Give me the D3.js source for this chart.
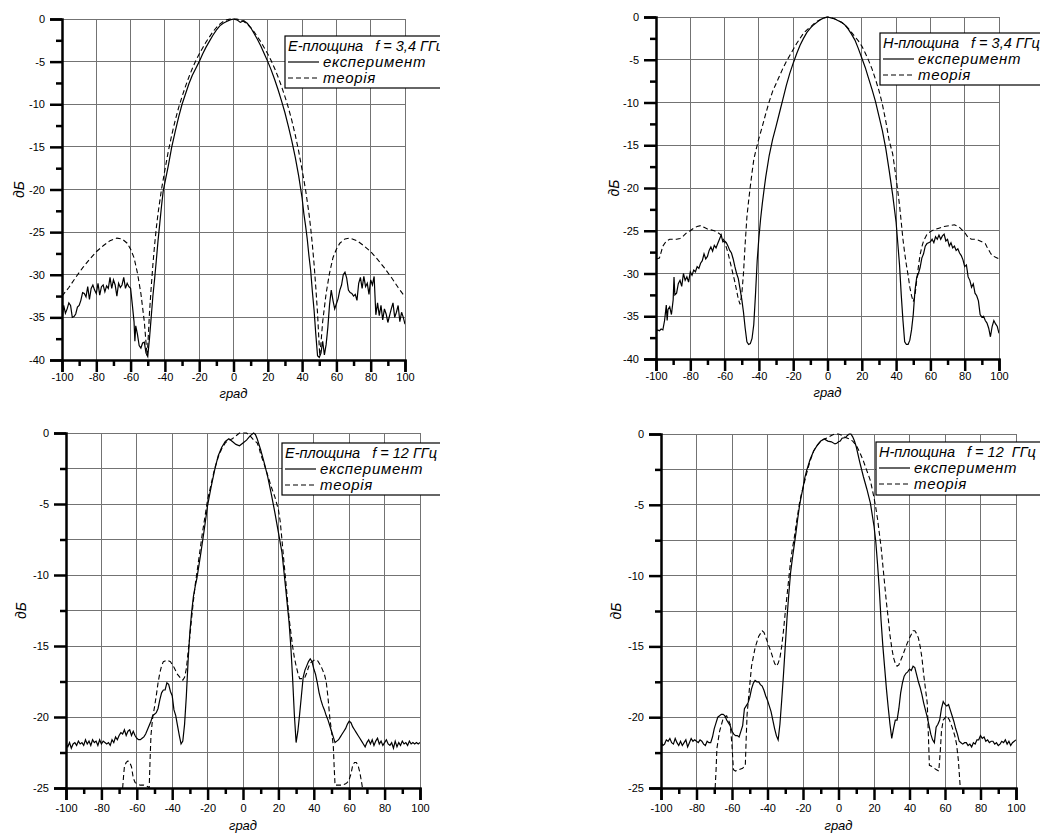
<!DOCTYPE html>
<html>
<head>
<meta charset="UTF-8">
<title>Діаграми спрямованості</title>
<script src="https://d3js.org/d3.v7.min.js"></script>
<style>
  body { margin: 0; background: #ffffff; }
  svg { display: block; font-family: "Liberation Sans", Arial, sans-serif; }
</style>
</head>
<body>
<div id="chart"></div>
<script>
// ---------- data (angle in degrees, level in dB) ----------

// E-plane, 3.4 GHz
var e34ExpX = [-100,-99,-98,-97,-96,-95,-94,-93,-92,-91,-90,-89,-88,-87,-86,-85,-84,-83,-82,-81,-80,-79,-78,-77,-76,-75,-74,-73,-72,-71,-70,-69,-68,-67,-66,-65,-64,-63,-62,-61,-60,-59,-58,-57.5,-57,-56,-55,-54,-53,-52,-51,-50,-49,-48,-47,-46,-45,-44,-43,-42,-41,-40,-38,-36,-34,-32,-30,-28,-26,-24,-22,-20,-18,-16,-14,-12,-10,-8,-6,-4,-2,0,2,4,5,6,8,10,12,14,16,18,20,22,24,26,28,30,32,34,36,38,40,41,42,43,44,45,46,47,48,49,50,51,52,53,54,55,56,57,58,59,60,61,62,63,64,65,66,67,68,69,70,71,72,73,74,75,76,77,78,79,80,81,82,83,84,85,86,87,88,89,90,91,92,93,94,95,96,97,98,99,100];
var e34ExpY = [-35.3,-33.6,-34.5,-34.0,-33.3,-33.6,-35.0,-34.9,-34.6,-33.8,-33.6,-33.0,-32.1,-32.2,-32.6,-31.4,-32.9,-31.6,-31.2,-31.8,-32.2,-31.0,-32.4,-31.4,-31.2,-32.0,-31.3,-31.6,-30.3,-31.6,-30.6,-31.2,-32.5,-31.0,-31.5,-31.2,-30.3,-31.6,-31.0,-31.4,-31.6,-33.5,-35.5,-37.8,-36.0,-37.0,-38.3,-38.6,-38.0,-37.9,-39.2,-39.6,-37.5,-35.0,-32.5,-30.5,-28.3,-26.0,-24.0,-22.0,-20.2,-19.2,-17.2,-15.0,-13.2,-11.5,-10.0,-8.8,-7.6,-6.6,-5.8,-5.0,-4.1,-3.3,-2.6,-1.9,-1.3,-0.8,-0.5,-0.3,-0.1,0,-0.1,-0.4,-0.3,-0.2,-0.5,-1.0,-1.7,-2.4,-3.2,-4.1,-5.0,-6.0,-7.1,-8.3,-9.6,-11.0,-12.6,-14.3,-16.2,-18.4,-21.0,-22.8,-24.2,-25.8,-27.8,-29.5,-32.0,-34.2,-37.0,-39.5,-39.7,-39.2,-37.8,-39.4,-38.2,-36.2,-33.5,-31.8,-33.0,-34.0,-33.4,-32.8,-31.8,-31.2,-30.0,-29.7,-30.4,-31.8,-32.1,-32.2,-32.5,-32.3,-33.0,-31.0,-30.3,-31.6,-30.2,-31.4,-31.0,-32.3,-30.6,-31.2,-30.2,-34.7,-33.3,-34.8,-33.6,-35.3,-34.0,-34.6,-35.6,-34.8,-34.0,-33.3,-35.0,-34.4,-33.6,-35.5,-34.4,-35.0,-35.8];
var e34ThX = [-100,-96,-92,-88,-84,-80,-76,-72,-68,-65,-62,-60,-58,-56,-54,-52,-51,-50.3,-49.5,-49,-48,-47,-46,-45,-44,-42,-40,-38,-36,-34,-32,-30,-28,-26,-24,-22,-20,-18,-16,-14,-12,-10,-8,-6,-4,-2,0,2,4,6,8,10,12,14,16,18,20,22,24,26,28,30,32,34,36,38,40,42,44,45,46,47,48,49,49.5,50.3,51,52,54,56,58,60,62,65,68,72,76,80,84,88,92,96,100];
var e34ThY = [-32.5,-31.5,-30.3,-29.2,-28.2,-27.3,-26.6,-26.0,-25.7,-25.8,-26.3,-27.0,-28.0,-29.8,-32.2,-35.5,-38.0,-39.5,-36.5,-34.5,-31.5,-28.8,-26.5,-24.5,-22.8,-20.0,-17.7,-15.5,-13.6,-11.9,-10.4,-9.1,-7.9,-6.8,-5.8,-4.9,-4.1,-3.4,-2.7,-2.1,-1.5,-1.0,-0.6,-0.3,-0.1,0,0,0,-0.1,-0.3,-0.6,-1.0,-1.5,-2.1,-2.7,-3.4,-4.1,-4.9,-5.8,-6.8,-7.9,-9.1,-10.4,-11.9,-13.6,-15.5,-17.7,-20.0,-22.8,-24.5,-26.5,-28.8,-31.5,-34.5,-36.5,-39.5,-38.0,-35.5,-32.2,-29.8,-28.0,-27.0,-26.3,-25.8,-25.7,-26.0,-26.6,-27.3,-28.2,-29.2,-30.3,-31.5,-32.6];

// H-plane, 3.4 GHz
var h34ExpX = [-100,-99,-98,-97,-96,-95,-94,-93.5,-93,-92,-91,-90,-89.5,-89,-88,-87,-86,-85,-84,-83,-82,-81,-80,-79,-78,-77,-76,-75,-74,-73,-72,-71,-70,-69,-68,-67,-66,-65,-64,-63,-62,-61,-60,-59,-58,-57,-56,-55,-54,-53,-52,-51,-50,-49,-48,-47,-46,-45,-44,-43,-42,-41,-40,-39,-38,-37,-36,-34,-32,-30,-28,-26,-24,-22,-20,-18,-16,-14,-12,-10,-8,-6,-4,-2,0,2,4,6,8,10,12,14,16,18,20,22,24,26,28,30,32,34,36,38,40,41,42,43,44,45,46,47,48,49,50,51,52,53,54,55,56,57,58,59,60,61,62,63,64,65,66,67,68,69,70,71,72,73,74,75,76,77,78,79,80,81,82,83,84,85,86,87,88,89,90,91,92,93,94,95,96,97,98,99,100];
var h34ExpY = [-36.8,-36.6,-36.7,-36.5,-36.6,-35.5,-33.7,-35.5,-34.2,-33.9,-34.8,-33.1,-30.4,-32.5,-32.3,-31.2,-30.8,-31.5,-30.0,-30.8,-30.4,-31.0,-29.8,-30.2,-29.6,-29.8,-29.2,-29.4,-28.8,-28.5,-27.7,-28.3,-28.0,-27.3,-26.9,-27.4,-26.7,-27.0,-26.5,-26.0,-25.5,-26.3,-26.2,-26.4,-26.8,-27.3,-27.6,-28.3,-29.2,-30.0,-30.6,-31.8,-33.0,-34.5,-36.4,-38.0,-38.3,-38.2,-37.6,-36.0,-32.5,-28.5,-25.8,-23.6,-21.8,-20.2,-18.7,-16.2,-14.3,-12.8,-11.2,-9.6,-8.0,-6.6,-5.4,-4.3,-3.3,-2.5,-1.8,-1.3,-0.9,-0.6,-0.3,-0.1,0,-0.1,-0.2,-0.4,-0.6,-0.9,-1.4,-2.0,-2.7,-3.7,-4.8,-5.9,-7.2,-8.5,-9.9,-11.6,-13.3,-15.4,-18.0,-20.8,-24.0,-26.5,-29.0,-32.5,-35.5,-38.0,-38.3,-38.3,-37.8,-36.6,-34.8,-32.0,-30.5,-30.0,-29.3,-28.2,-27.7,-26.8,-26.5,-26.4,-26.3,-26.0,-26.4,-25.7,-26.0,-25.5,-26.0,-25.6,-25.4,-26.2,-26.0,-26.8,-26.4,-27.0,-26.8,-27.3,-27.1,-27.6,-27.9,-28.4,-29.2,-29.0,-30.4,-30.8,-31.6,-31.2,-32.3,-32.6,-33.2,-34.8,-35.1,-35.0,-35.5,-35.8,-36.4,-37.4,-36.2,-35.5,-35.9,-36.2,-37.0];
var h34ThX = [-100,-98,-97,-96,-94,-92,-90,-88,-86,-84,-82,-80,-78,-76,-74,-72,-70,-68,-66,-64,-62,-60,-58,-56,-54,-52,-51,-50,-49,-48,-47,-46,-45,-44,-43,-42,-40,-38,-36,-34,-32,-30,-28,-26,-24,-22,-20,-18,-16,-14,-12,-10,-8,-6,-4,-2,0,2,4,6,8,10,12,14,16,18,20,22,24,26,28,30,32,34,36,38,40,42,43,44,45,46,47,48,49,50,51,52,53,54,55,56,58,60,62,65,68,71,74,77,80,82,84,86,88,90,92,93,95,96,98,100];
var h34ThY = [-28.3,-28.2,-27.5,-26.8,-26.2,-26.0,-26.0,-26.0,-25.9,-25.6,-25.2,-25.0,-24.7,-24.5,-24.4,-24.6,-24.8,-24.9,-25.0,-25.2,-25.5,-26.3,-27.6,-29.3,-31.0,-33.0,-33.6,-32.5,-30.0,-26.5,-23.4,-21.5,-19.8,-18.2,-16.7,-15.8,-14.2,-12.8,-11.3,-9.9,-8.7,-7.8,-6.9,-6.0,-5.2,-4.5,-3.8,-3.1,-2.5,-1.9,-1.5,-1.2,-0.8,-0.5,-0.3,-0.1,0,-0.1,-0.2,-0.4,-0.6,-0.9,-1.3,-1.8,-2.3,-2.8,-3.4,-4.2,-5.1,-6.1,-7.3,-8.6,-10.2,-12.2,-14.5,-16.0,-18.8,-22.0,-24.0,-26.0,-27.6,-29.0,-30.2,-31.6,-32.6,-33.3,-32.6,-30.8,-29.2,-27.8,-26.9,-26.2,-25.4,-25.1,-24.9,-24.7,-24.5,-24.4,-24.3,-24.6,-25.2,-25.8,-26.0,-26.0,-26.1,-26.3,-26.5,-26.9,-27.6,-27.9,-28.1,-28.3];

// E-plane, 12 GHz
var e12ExpX = [-100,-99,-98,-97,-96,-95,-94,-93,-92,-91,-90,-89,-88,-87,-86,-85,-84,-83,-82,-81,-80,-79,-78,-77,-76,-75,-74,-73,-72,-71,-70,-69,-68,-67,-66,-65,-64,-63,-62,-61,-60,-59,-58,-57,-56,-55,-54,-53,-52,-51,-50,-49,-48,-47,-46,-45,-44,-43,-42,-41,-40,-39,-38,-37,-36,-35,-34,-33,-32,-31,-30,-29,-28,-27,-26,-24,-22,-20,-18,-16,-14,-12,-10,-8,-6,-4,-2,0,2,4,6,7,8,10,12,14,16,18,20,22,24,26,27,28,29,30,31,32,33,34,35,36,37,38,39,40,41,42,43,44,45,46,47,48,49,50,51,52,53,54,55,56,57,58,59,60,61,62,63,64,65,66,67,68,69,70,71,72,73,74,75,76,77,78,79,80,81,82,83,84,85,86,87,88,89,90,91,92,93,94,95,96,97,98,99,100];
var e12ExpY = [-21.9,-22.1,-21.8,-22.2,-21.9,-21.8,-22.0,-21.7,-21.9,-21.8,-22.0,-21.6,-21.9,-21.7,-22.0,-21.6,-21.8,-21.7,-22.0,-21.6,-21.9,-21.7,-21.8,-21.9,-21.8,-22.0,-21.6,-21.8,-21.4,-21.6,-21.3,-21.1,-21.2,-20.9,-21.3,-21.0,-20.9,-21.3,-21.0,-21.3,-21.5,-21.6,-21.6,-21.5,-21.4,-21.2,-20.9,-20.6,-20.3,-19.9,-19.8,-19.7,-19.4,-18.8,-18.3,-18.1,-18.1,-17.6,-17.7,-18.2,-18.5,-19.5,-19.9,-20.6,-21.3,-21.9,-21.7,-20.5,-18.5,-16.0,-14.0,-12.6,-11.5,-10.8,-10.2,-8.6,-6.9,-5.1,-3.8,-2.6,-1.6,-1.0,-0.6,-0.4,-0.6,-0.8,-0.9,-0.7,-0.5,-0.2,0,-0.1,-0.4,-1.2,-2.1,-3.1,-4.3,-5.6,-7.0,-8.4,-10.8,-13.3,-15.0,-17.2,-19.8,-21.8,-21.0,-19.8,-18.5,-17.2,-16.7,-16.4,-16.1,-15.9,-16.1,-16.6,-17.0,-17.6,-18.3,-18.8,-19.2,-19.5,-19.9,-20.2,-20.6,-21.0,-21.4,-21.8,-21.7,-21.6,-21.4,-21.2,-21.0,-20.8,-20.5,-20.3,-20.4,-20.7,-20.9,-21.1,-21.3,-21.5,-21.7,-21.9,-22.1,-21.8,-21.6,-21.9,-21.6,-22.0,-21.7,-21.5,-21.9,-21.7,-22.0,-21.8,-21.6,-21.9,-22.0,-21.8,-22.2,-21.7,-22.1,-21.8,-22.0,-21.7,-21.9,-21.8,-22.0,-21.7,-21.9,-21.8,-21.9,-21.8,-21.9,-21.8];
var e12ThX = [-68,-67.5,-67,-66,-65,-64,-63,-62,-61,-60,-58,-56,-54,-53,-52.5,-52,-51,-50,-49,-48,-47,-46,-45,-43,-41,-39,-37,-35,-34,-33,-32,-31,-30,-29,-28,-27,-26,-25,-24,-23,-22,-21,-20,-18,-16,-14,-12,-10,-8,-6,-4,-2,0,2,4,6,8,9,10,12,14,16,18,20,21,22,23,24,25,26,27,28,29,30,31,32,34,35,36,37,38,40,42,44,45,46,47,48,49,50,51,51.5,52,54,56,58,59,60,61,62,63,64,65,66,67,67.5];
var e12ThY = [-25.0,-24.2,-23.5,-23.2,-23.1,-23.2,-23.5,-24.3,-24.6,-24.7,-24.8,-24.8,-24.9,-25.0,-23.0,-21.3,-20.0,-19.3,-18.5,-17.6,-16.9,-16.4,-16.1,-16.0,-16.1,-16.5,-17.0,-17.3,-17.4,-17.2,-16.6,-15.4,-14.3,-13.0,-11.8,-10.7,-9.8,-8.9,-8.0,-7.1,-6.3,-5.5,-4.7,-3.6,-2.5,-1.7,-1.1,-0.7,-0.5,-0.4,-0.2,0,0,0,-0.2,-0.5,-0.7,-1.0,-1.5,-2.2,-3.0,-3.8,-4.5,-5.4,-6.2,-7.5,-8.9,-10.2,-11.6,-13.0,-14.0,-15.0,-15.8,-16.4,-16.9,-17.3,-17.3,-17.2,-16.9,-16.5,-16.2,-16.0,-16.0,-16.4,-16.7,-17.0,-17.5,-18.6,-20.0,-21.0,-22.0,-23.5,-24.8,-24.8,-24.8,-24.7,-24.6,-24.4,-24.0,-23.4,-23.2,-23.2,-23.4,-23.9,-24.6,-25.0];

// H-plane, 12 GHz
var h12ExpX = [-100,-99,-98,-97,-96,-95,-94,-93,-92,-91,-90,-89,-88,-87,-86,-85,-84,-83,-82,-81,-80,-79,-78,-77,-76,-75,-74,-73,-72,-71,-70,-69,-68,-67,-66,-65,-64,-63,-62,-61,-60,-59,-58,-57,-56,-55,-54,-53,-52,-51,-50,-49,-48,-47,-46,-45,-44,-43,-42,-41,-40,-39,-38,-37,-36,-35,-34,-33,-32,-31,-30,-29,-28,-27,-26,-25,-24,-23,-22,-21,-20,-19,-18,-16,-14,-12,-10,-8,-6,-4,-2,-1,0,1,2,4,5,6,7,8,9,10,12,14,16,18,20,21,22,23,24,25,26,27,28,29,30,31,32,33,34,35,36,37,38,39,40,41,42,43,44,45,46,47,48,49,50,51,52,53,54,55,56,57,58,59,60,61,62,63,64,65,66,67,68,69,70,71,72,73,74,75,76,77,78,79,80,81,82,83,84,85,86,87,88,89,90,91,92,93,94,95,96,97,98,99,100];
var h12ExpY = [-21.7,-22.0,-21.9,-21.6,-21.7,-21.5,-21.8,-21.9,-21.5,-21.8,-22.0,-21.7,-22.0,-21.8,-21.6,-22.1,-21.8,-21.5,-21.7,-21.6,-21.7,-21.8,-21.6,-21.7,-21.9,-22.0,-21.7,-21.8,-21.8,-21.4,-20.8,-20.4,-20.0,-19.9,-19.8,-19.8,-19.9,-20.2,-20.4,-20.6,-21.0,-21.2,-21.3,-21.3,-21.4,-21.0,-20.6,-19.4,-19.2,-19.0,-18.6,-18.0,-17.6,-17.4,-17.5,-17.5,-17.7,-17.8,-18.1,-18.5,-18.8,-19.2,-19.6,-20.2,-20.8,-21.3,-21.6,-20.5,-18.8,-17.0,-15.0,-13.0,-11.3,-9.8,-8.8,-7.9,-7.0,-6.0,-5.1,-4.4,-3.8,-3.1,-2.6,-1.8,-1.2,-0.8,-0.5,-0.35,-0.5,-0.55,-0.7,-0.65,-0.55,-0.5,-0.3,-0.25,-0.1,0,0,-0.2,-0.5,-0.9,-2.0,-3.0,-3.9,-4.9,-6.5,-7.6,-9.2,-11.0,-13.2,-15.0,-16.5,-18.0,-19.3,-20.5,-21.5,-20.8,-20.2,-20.2,-19.4,-18.3,-17.6,-17.1,-16.9,-16.8,-16.6,-16.7,-16.4,-16.5,-17.0,-17.5,-17.9,-18.4,-19.0,-19.5,-20.0,-20.6,-21.2,-21.6,-21.8,-20.7,-20.5,-20.2,-19.4,-18.9,-19.1,-19.2,-19.1,-19.5,-19.9,-20.3,-20.8,-21.2,-21.7,-21.8,-21.9,-21.8,-21.8,-22.0,-21.9,-22.1,-21.8,-21.9,-21.6,-21.6,-21.3,-21.5,-21.4,-21.7,-21.6,-21.8,-21.7,-21.7,-21.9,-21.8,-22.0,-21.9,-21.7,-21.8,-21.6,-21.9,-21.7,-22.0,-21.8,-21.7,-21.6];
var h12ThX = [-69.5,-69,-68.5,-67,-65,-63,-61,-60,-59.2,-58,-56,-54,-52.5,-52,-51.5,-50.5,-49,-47,-45,-43,-42,-40,-38,-36,-35,-34,-33,-32,-31,-30,-29,-28,-27,-26,-25,-24,-23,-22,-21,-20,-18,-16,-14,-12,-10,-8,-6,-4,-2,0,2,4,6,8,10,12,14,16,18,20,21,22,23,24,25,26,27,28,29,30,31,32,33,34,35,36,38,40,42,43,44,45,46,47,48,49,50,50.7,51.2,53,55,56.5,57.3,58,59,61,62.5,64,65.5,66.5,67.5,68.5,68.8];
var h12ThY = [-25.0,-23.8,-22.2,-21.0,-20.1,-19.9,-20.5,-22.0,-23.7,-23.8,-23.7,-23.6,-23.4,-21.5,-19.8,-18.4,-16.4,-15.1,-14.3,-13.9,-14.0,-14.7,-15.4,-16.2,-16.4,-16.2,-15.8,-15.0,-13.9,-12.6,-11.4,-10.2,-9.0,-8.1,-7.4,-6.5,-5.7,-4.9,-4.3,-3.8,-2.8,-1.9,-1.2,-0.8,-0.5,-0.35,-0.25,-0.1,0,0,-0.1,-0.25,-0.35,-0.5,-0.8,-1.3,-1.9,-2.6,-3.3,-4.5,-5.2,-6.0,-7.0,-8.0,-9.3,-10.6,-11.9,-13.0,-14.2,-15.1,-15.8,-16.2,-16.4,-16.3,-16.0,-15.7,-15.0,-14.4,-13.9,-13.9,-14.1,-14.4,-15.0,-15.8,-17.0,-18.0,-19.0,-21.5,-23.4,-23.5,-23.7,-23.8,-22.5,-21.0,-20.2,-19.9,-20.2,-20.7,-21.3,-21.9,-23.0,-24.8,-25.0];

// ticks and labels
var xTicks = [-100, -80, -60, -40, -20, 0, 20, 40, 60, 80, 100];
var xMinorTicks = [-90, -70, -50, -30, -10, 10, 30, 50, 70, 90];
var yTicks34 = [0, -5, -10, -15, -20, -25, -30, -35, -40];
var yTicks12 = [0, -5, -10, -15, -20, -25];
var yHalfTicks34 = [-2.5, -7.5, -12.5, -17.5, -22.5, -27.5, -32.5, -37.5];
var yHalfTicks12 = [-2.5, -7.5, -12.5, -17.5, -22.5];
var legendTitles = ["E-площина   f = 3,4 ГГц", "H-площина   f = 3,4 ГГц", "E-площина   f = 12 ГГц", "H-площина   f = 12  ГГц"];
var seriesNames = ["експеримент", "теорія"];
var xTitle = "град";
var yTitle = "дБ";

// ---------- layout of the four panels ----------
var panels = [
  {left: 62, right: 405, top: 19, bottom: 360, yMin: -40, yTicks: yTicks34, yHalf: yHalfTicks34, gridHalf: false,
   exp: d3.zip(e34ExpX, e34ExpY), th: d3.zip(e34ThX, e34ThY), title: legendTitles[0],
   lx: 285, ly: 36, lh: 52, clipR: 440, pad: 1, titleDy: 38, yLab: 42},
  {left: 656, right: 999, top: 17, bottom: 359, yMin: -40, yTicks: yTicks34, yHalf: yHalfTicks34, gridHalf: false,
   exp: d3.zip(h34ExpX, h34ExpY), th: d3.zip(h34ThX, h34ThY), title: legendTitles[1],
   lx: 880, ly: 33, lh: 52, clipR: 1040, pad: 1, titleDy: 38, yLab: 41},
  {left: 66, right: 420, top: 433, bottom: 788, yMin: -25, yTicks: yTicks12, yHalf: yHalfTicks12, gridHalf: true,
   exp: d3.zip(e12ExpX, e12ExpY), th: d3.zip(e12ThX, e12ThY), title: legendTitles[2],
   lx: 282, ly: 443, lh: 52, clipR: 440, pad: 4, titleDy: 42, yLab: 44},
  {left: 661, right: 1016, top: 434, bottom: 788, yMin: -25, yTicks: yTicks12, yHalf: yHalfTicks12, gridHalf: true,
   exp: d3.zip(h12ExpX, h12ExpY), th: d3.zip(h12ThX, h12ThY), title: legendTitles[3],
   lx: 876, ly: 442, lh: 53, clipR: 1040, pad: 4, titleDy: 42, yLab: 44}
];

var svg = d3.select("#chart").append("svg")
    .attr("width", 1040)
    .attr("height", 833);

var fmt = function(d) { return String(d); };

panels.forEach(function(p, i) {
    var x = d3.scaleLinear().domain([-100, 100]).range([p.left, p.right]);
    var y = d3.scaleLinear().domain([p.yMin, 0]).range([p.bottom, p.top]);
    var g = svg.append("g");

    // clip for the curves
    var clipId = "plot" + i;
    svg.append("clipPath").attr("id", clipId)
      .append("rect")
        .attr("x", p.left).attr("y", p.top - 1)
        .attr("width", p.right - p.left).attr("height", p.bottom - p.top + 1);

    // grid
    var gridY = p.gridHalf ? p.yTicks.concat(p.yHalf) : p.yTicks;
    g.append("g").selectAll("line").data(xTicks).join("line")
        .attr("x1", d => x(d)).attr("x2", d => x(d))
        .attr("y1", p.top).attr("y2", p.bottom)
        .attr("stroke", "#737373").attr("stroke-width", 1).attr("shape-rendering", "crispEdges");
    g.append("g").selectAll("line").data(gridY).join("line")
        .attr("x1", p.left).attr("x2", p.right)
        .attr("y1", d => y(d)).attr("y2", d => y(d))
        .attr("stroke", "#737373").attr("stroke-width", 1).attr("shape-rendering", "crispEdges");

    // curves
    var line = d3.line().x(d => x(d[0])).y(d => y(d[1]));
    var curves = g.append("g").attr("clip-path", "url(#" + clipId + ")");
    curves.append("path").datum(p.th).attr("d", line)
        .attr("fill", "none").attr("stroke", "#000").attr("stroke-width", 1.1)
        .attr("stroke-dasharray", "5,3");
    curves.append("path").datum(p.exp).attr("d", line)
        .attr("fill", "none").attr("stroke", "#000").attr("stroke-width", 1.2);

    // axes
    g.append("g").attr("transform", "translate(" + p.left + ",0)")
        .call(d3.axisLeft(y).tickValues(p.yTicks).tickSize(12).tickPadding(5).tickFormat(fmt));
    g.append("g").attr("transform", "translate(" + p.left + ",0)")
        .call(d3.axisLeft(y).tickValues(p.yHalf).tickSize(6).tickFormat(""))
        .call(a => a.select(".domain").remove());
    g.append("g").attr("transform", "translate(0," + p.bottom + ")")
        .call(d3.axisBottom(x).tickValues(xTicks).tickSize(12).tickPadding(p.pad).tickFormat(fmt));
    g.append("g").attr("transform", "translate(0," + p.bottom + ")")
        .call(d3.axisBottom(x).tickValues(xMinorTicks).tickSize(6).tickFormat(""))
        .call(a => a.select(".domain").remove());

    g.selectAll(".domain").attr("stroke", "#000").attr("stroke-width", 2.5);
    g.selectAll(".tick line").attr("stroke", "#000").attr("stroke-width", 2.5);
    g.selectAll(".tick text").attr("font-size", 11).attr("fill", "#000")
        .attr("font-family", "'Liberation Sans', Arial, sans-serif");

    // axis titles
    g.append("text")
        .attr("x", (p.left + p.right) / 2).attr("y", p.bottom + p.titleDy)
        .attr("text-anchor", "middle").attr("font-size", 13).attr("font-style", "italic")
        .text(xTitle);
    g.append("text")
        .attr("transform", "translate(" + (p.left - p.yLab + 4) + "," + ((p.top + p.bottom) / 2) + ") rotate(-90)")
        .attr("text-anchor", "middle").attr("font-size", 14).attr("font-style", "italic")
        .text(yTitle);

    // legend box
    var legClip = "leg" + i;
    svg.append("clipPath").attr("id", legClip)
      .append("rect").attr("x", 0).attr("y", 0).attr("width", p.clipR).attr("height", 833);
    var leg = g.append("g").attr("clip-path", "url(#" + legClip + ")");
    leg.append("rect")
        .attr("x", p.lx).attr("y", p.ly).attr("width", 200).attr("height", p.lh)
        .attr("fill", "#fff").attr("stroke", "#000").attr("stroke-width", 1.2);
    leg.append("text").attr("x", p.lx + 3).attr("y", p.ly + 15)
        .attr("font-size", 14.5).attr("font-style", "italic").style("white-space", "pre")
        .text(p.title);
    leg.append("line").attr("x1", p.lx + 3).attr("x2", p.lx + 34)
        .attr("y1", p.ly + 26).attr("y2", p.ly + 26).attr("stroke", "#000").attr("stroke-width", 1.2);
    leg.append("line").attr("x1", p.lx + 3).attr("x2", p.lx + 34)
        .attr("y1", p.ly + 42).attr("y2", p.ly + 42).attr("stroke", "#000").attr("stroke-width", 1.1)
        .attr("stroke-dasharray", "5,3");
    leg.append("text").attr("x", p.lx + 38).attr("y", p.ly + 31)
        .attr("font-size", 15).attr("font-style", "italic").attr("letter-spacing", 0.7)
        .text(seriesNames[0]);
    leg.append("text").attr("x", p.lx + 38).attr("y", p.ly + 47)
        .attr("font-size", 15).attr("font-style", "italic").attr("letter-spacing", 0.7)
        .text(seriesNames[1]);
});
</script>
</body>
</html>
